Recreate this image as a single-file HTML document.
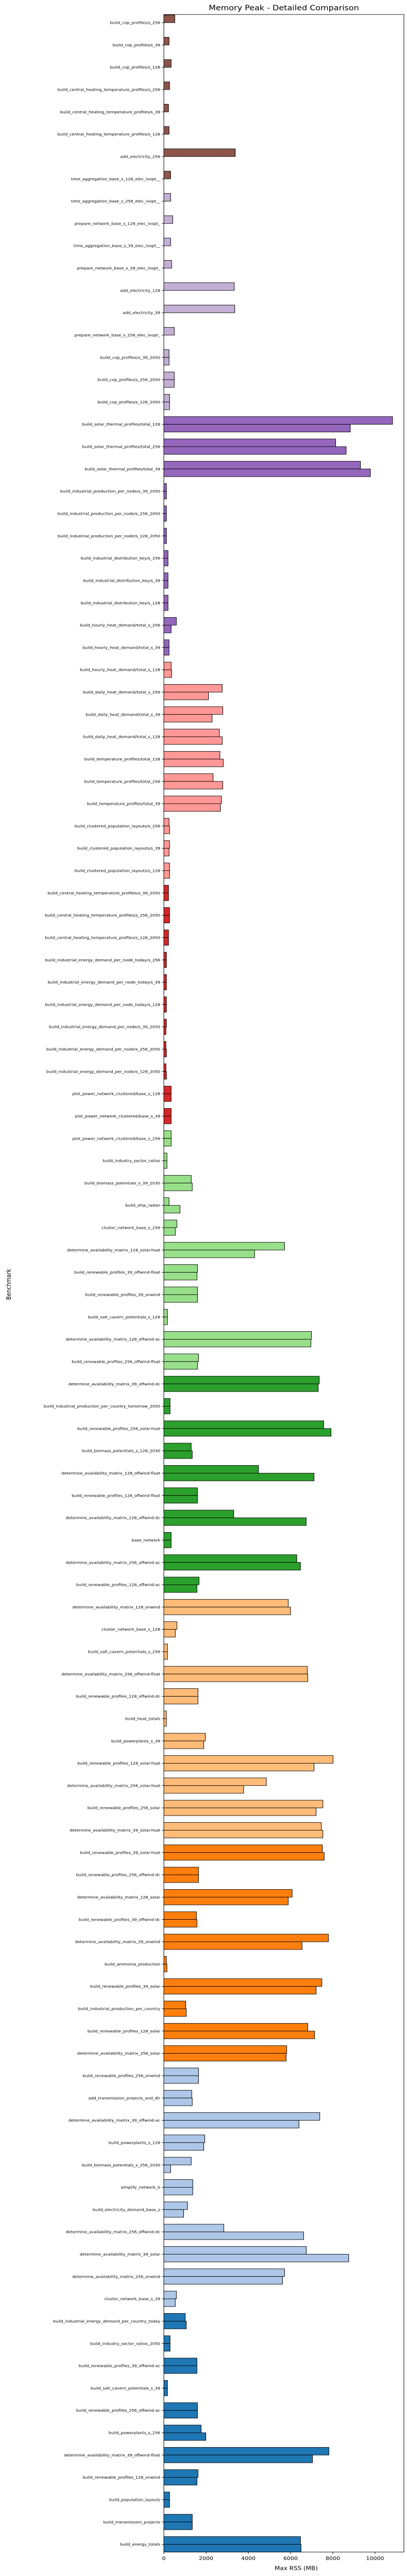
<!DOCTYPE html>
<html><head><meta charset="utf-8"><meta name="viewport" content="width=790"><title>Memory Peak - Detailed Comparison</title>
<style>html,body{margin:0;padding:0;background:#fff;overflow:hidden;}svg{display:block;width:100vw;height:100vh;font-family:"DejaVu Sans","Liberation Sans",sans-serif;}</style>
</head><body>
<svg id="chart" viewBox="0 0 790 5690" preserveAspectRatio="none" xmlns="http://www.w3.org/2000/svg">
<rect x="0" y="0" width="790" height="5690" fill="#fff"/>
<text x="551" y="23" font-size="16" text-anchor="middle" fill="#000">Memory Peak - Detailed Comparison</text>
<text x="575" y="5677" font-size="12" text-anchor="middle" fill="#000">Max RSS (MB)</text>
<text transform="translate(21,2837) rotate(-90)" font-size="12" text-anchor="middle" fill="#000">Benchmark</text>
<g id="bars"></g>
<g id="yticks"></g>
<g id="xticks"></g>
<rect x="318" y="32" width="466" height="5605" fill="none" stroke="#000" stroke-width="1"/>
</svg>
<script>
const categories = ["build_cop_profiles/s_256","build_cop_profiles/s_39","build_cop_profiles/s_128","build_central_heating_temperature_profiles/s_256","build_central_heating_temperature_profiles/s_39","build_central_heating_temperature_profiles/s_128","add_electricity_256","time_aggregation_base_s_128_elec_lvopt__","time_aggregation_base_s_256_elec_lvopt__","prepare_network_base_s_128_elec_lvopt_","time_aggregation_base_s_39_elec_lvopt__","prepare_network_base_s_39_elec_lvopt_","add_electricity_128","add_electricity_39","prepare_network_base_s_256_elec_lvopt_","build_cop_profiles/s_39_2050","build_cop_profiles/s_256_2050","build_cop_profiles/s_128_2050","build_solar_thermal_profiles/total_128","build_solar_thermal_profiles/total_256","build_solar_thermal_profiles/total_39","build_industrial_production_per_node/s_39_2050","build_industrial_production_per_node/s_256_2050","build_industrial_production_per_node/s_128_2050","build_industrial_distribution_key/s_256","build_industrial_distribution_key/s_39","build_industrial_distribution_key/s_128","build_hourly_heat_demand/total_s_256","build_hourly_heat_demand/total_s_39","build_hourly_heat_demand/total_s_128","build_daily_heat_demand/total_s_256","build_daily_heat_demand/total_s_39","build_daily_heat_demand/total_s_128","build_temperature_profiles/total_128","build_temperature_profiles/total_256","build_temperature_profiles/total_39","build_clustered_population_layouts/s_256","build_clustered_population_layouts/s_39","build_clustered_population_layouts/s_128","build_central_heating_temperature_profiles/s_39_2050","build_central_heating_temperature_profiles/s_256_2050","build_central_heating_temperature_profiles/s_128_2050","build_industrial_energy_demand_per_node_today/s_256","build_industrial_energy_demand_per_node_today/s_39","build_industrial_energy_demand_per_node_today/s_128","build_industrial_energy_demand_per_node/s_39_2050","build_industrial_energy_demand_per_node/s_256_2050","build_industrial_energy_demand_per_node/s_128_2050","plot_power_network_clustered/base_s_128","plot_power_network_clustered/base_s_39","plot_power_network_clustered/base_s_256","build_industry_sector_ratios","build_biomass_potentials_s_39_2030","build_ship_raster","cluster_network_base_s_256","determine_availability_matrix_128_solar-hsat","build_renewable_profiles_39_offwind-float","build_renewable_profiles_39_onwind","build_salt_cavern_potentials_s_128","determine_availability_matrix_128_offwind-ac","build_renewable_profiles_256_offwind-float","determine_availability_matrix_39_offwind-dc","build_industrial_production_per_country_tomorrow_2050","build_renewable_profiles_256_solar-hsat","build_biomass_potentials_s_128_2030","determine_availability_matrix_128_offwind-float","build_renewable_profiles_128_offwind-float","determine_availability_matrix_128_offwind-dc","base_network","determine_availability_matrix_256_offwind-ac","build_renewable_profiles_128_offwind-ac","determine_availability_matrix_128_onwind","cluster_network_base_s_128","build_salt_cavern_potentials_s_256","determine_availability_matrix_256_offwind-float","build_renewable_profiles_128_offwind-dc","build_heat_totals","build_powerplants_s_39","build_renewable_profiles_128_solar-hsat","determine_availability_matrix_256_solar-hsat","build_renewable_profiles_256_solar","determine_availability_matrix_39_solar-hsat","build_renewable_profiles_39_solar-hsat","build_renewable_profiles_256_offwind-dc","determine_availability_matrix_128_solar","build_renewable_profiles_39_offwind-dc","determine_availability_matrix_39_onwind","build_ammonia_production","build_renewable_profiles_39_solar","build_industrial_production_per_country","build_renewable_profiles_128_solar","determine_availability_matrix_256_solar","build_renewable_profiles_256_onwind","add_transmission_projects_and_dlr","determine_availability_matrix_39_offwind-ac","build_powerplants_s_128","build_biomass_potentials_s_256_2030","simplify_network_b","build_electricity_demand_base_s","determine_availability_matrix_256_offwind-dc","determine_availability_matrix_39_solar","determine_availability_matrix_256_onwind","cluster_network_base_s_39","build_industrial_energy_demand_per_country_today","build_industry_sector_ratios_2050","build_renewable_profiles_39_offwind-ac","build_salt_cavern_potentials_s_39","build_renewable_profiles_256_offwind-ac","build_powerplants_s_256","determine_availability_matrix_39_offwind-float","build_renewable_profiles_128_onwind","build_population_layouts","build_transmission_projects","build_energy_totals"];
const seriesA = [519,247,346,272,222,247,3383,321,321,420,321,370,3333,3358,494,247,494,272,10827,8136,9309,123,123,123,198,198,198,593,247,346,2765,2790,2630,2654,2333,2728,247,272,272,222,272,222,123,123,123,123,99,99,346,346,346,148,1296,247,617,5716,1593,1593,173,6988,1642,7358,296,7568,1296,4481,1593,3309,346,6296,1667,5889,617,173,6790,1617,123,1963,8012,4852,7531,7457,7506,1642,6074,1543,7790,123,7481,1037,6815,5815,1642,1321,7383,1938,1296,1370,1123,2840,6741,5716,593,1012,296,1568,173,1593,1765,7815,1617,272,1346,6469];
const seriesB = [0,0,0,0,0,0,0,0,0,0,0,0,0,0,0,247,494,272,8827,8630,9778,123,123,123,198,198,198,346,247,370,2111,2284,2765,2815,2790,2679,272,247,272,222,272,222,123,123,123,99,123,123,346,346,346,148,1346,765,543,4296,1568,1593,173,6963,1593,7309,296,7914,1346,7111,1593,6741,346,6469,1568,6000,543,173,6815,1617,123,1889,7111,3778,7210,7531,7593,1642,5889,1568,6543,148,7210,1062,7136,5790,1642,1346,6395,1889,321,1370,938,6617,8753,5617,543,1062,296,1568,173,1593,1988,7037,1568,272,1346,6494];
const groupSizes = [8,10,11,10,11,11,10,11,10,11,11];
const groupColors = ["#8c564b","#c5b0d5","#9467bd","#ff9896","#d62728","#98df8a","#2ca02c","#ffbb78","#ff7f0e","#aec7e8","#1f77b4"];
const xTicks = [0,2000,4000,6000,8000,10000];

const NS = "http://www.w3.org/2000/svg";
const X0 = 318, XPX = 466, XMAX = 11366;
const Y_FIRST = 50, Y_LAST = 5620, AX_BOTTOM = 5637;
const BAR_H = 17;
function xScale(v){ return X0 + v / XMAX * XPX; }
function yScale(i){ return Y_FIRST + i * (Y_LAST - Y_FIRST) / (categories.length - 1); }
function colorFor(i){ let acc = 0; for (let g = 0; g < groupSizes.length; g++){ acc += groupSizes[g]; if (i < acc) return groupColors[g]; } return groupColors[groupColors.length-1]; }

const barsG = document.getElementById('bars');
const yG = document.getElementById('yticks');
const xG = document.getElementById('xticks');

categories.forEach((cat, i) => {
  const cy = yScale(i);
  const col = colorFor(i);
  const vals = [seriesA[i], seriesB[i]];
  vals.forEach((v, s) => {
    if (!v) return;
    const r = document.createElementNS(NS, 'rect');
    r.setAttribute('x', X0);
    r.setAttribute('y', s === 0 ? cy - BAR_H : cy);
    r.setAttribute('width', Math.max(0, xScale(v) - X0));
    r.setAttribute('height', BAR_H);
    r.setAttribute('fill', col);
    r.setAttribute('stroke', '#000');
    r.setAttribute('stroke-width', '1');
    
    
    barsG.appendChild(r);
  });
  const t = document.createElementNS(NS, 'line');
  t.setAttribute('x1', X0 - 4); t.setAttribute('x2', X0);
  t.setAttribute('y1', cy); t.setAttribute('y2', cy);
  t.setAttribute('stroke', '#000');
  
  
  yG.appendChild(t);
  const lbl = document.createElementNS(NS, 'text');
  lbl.setAttribute('x', X0 - 7);
  lbl.setAttribute('y', cy + 3);
  lbl.setAttribute('font-size', '8');
  lbl.setAttribute('text-anchor', 'end');
  lbl.setAttribute('fill', '#000');
  
  
  lbl.textContent = cat;
  yG.appendChild(lbl);
});

xTicks.forEach(v => {
  const x = xScale(v);
  const t = document.createElementNS(NS, 'line');
  t.setAttribute('x1', x); t.setAttribute('x2', x);
  t.setAttribute('y1', AX_BOTTOM); t.setAttribute('y2', AX_BOTTOM + 4);
  t.setAttribute('stroke', '#000');
  
  
  xG.appendChild(t);
  const lbl = document.createElementNS(NS, 'text');
  lbl.setAttribute('x', x);
  lbl.setAttribute('y', AX_BOTTOM + 18);
  lbl.setAttribute('font-size', '11');
  lbl.setAttribute('text-anchor', 'middle');
  lbl.setAttribute('fill', '#000');
  
  
  lbl.textContent = String(v);
  xG.appendChild(lbl);
});
</script>
</body></html>
